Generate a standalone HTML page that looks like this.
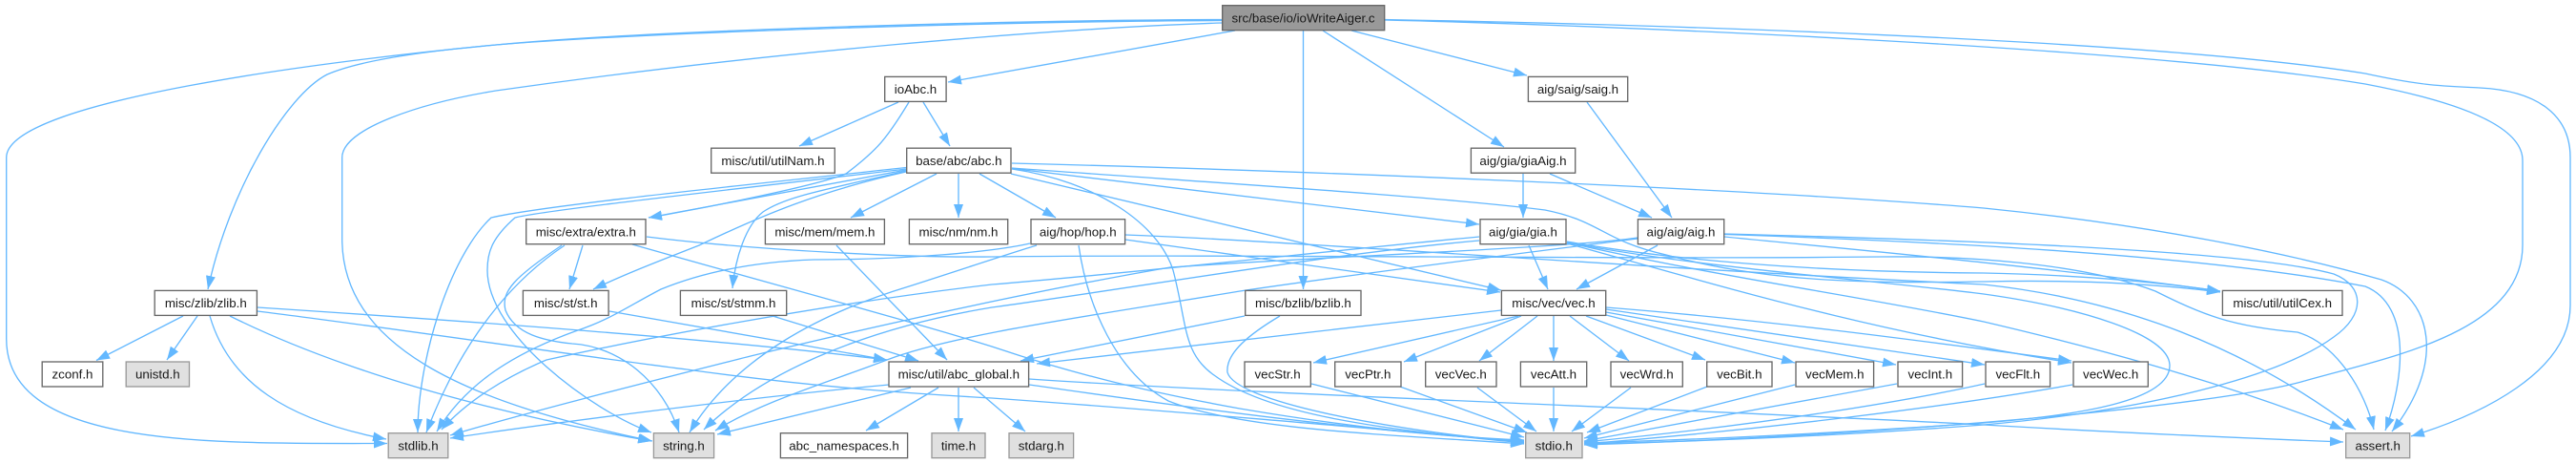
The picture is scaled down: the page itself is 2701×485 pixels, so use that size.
<!DOCTYPE html>
<html><head><meta charset="utf-8"><title>src/base/io/ioWriteAiger.c</title>
<style>
html,body{margin:0;padding:0;background:#fff}
svg{display:block}
.e path{fill:none;stroke:#63b8ff;stroke-width:1.33;marker-end:url(#a)}
rect{fill:#fff;stroke:#666;stroke-width:1.33}
rect.x{fill:#e0e0e0;stroke:#999}
rect.t{fill:#999;stroke:#666}
text{font-family:"Liberation Sans",Arial,sans-serif;font-size:13.33px;fill:#191919;text-anchor:middle}
</style></head><body>
<svg xmlns="http://www.w3.org/2000/svg" width="2701" height="485" viewBox="0 0 2701 485">
<defs><marker id="a" markerUnits="userSpaceOnUse" markerWidth="15" markerHeight="12" viewBox="0 -6 15 12" refX="14" refY="0" orient="auto"><path d="M0,-5 L14,0 L0,5 Z" fill="#63b8ff"/></marker></defs>
<g class="e">
<path d="M1281,20.5 C1100,21 700,30 520,47 C350,63 6.7,105 6.7,165 L6.7,355 C6.7,470 220,464.5 406,464.5"/>
<path d="M1281,21.5 C1100,22 700,32 520,47 C440,54 375,64 343,78 C300,100 240,200 218,303"/>
<path d="M1281,24 C1100,30 800,55 520,95 C440,108 358.7,135 358.7,165 L358.7,250 C358.7,360 480,420 684,462"/>
<path d="M1295,32 L994,86"/>
<path d="M1417,32 L1601,79"/>
<path d="M1387,32 L1577,154"/>
<path d="M1366.5,32 L1366.5,303"/>
<path d="M1452,20.5 C1700,25 2250,40 2480,77 C2540,90 2560,90 2600,92 C2660,95 2695,120 2695,165 L2695,320 C2695,390 2600,435 2528,457"/>
<path d="M1452,21 C1700,27 2250,50 2480,88 C2570,105 2645,130 2645,168 L2645,257 C2645,350 2500,375 2413,400 C2320,425 2000,455 1661,466"/>
<path d="M942,107 L838,153"/>
<path d="M968,107 L996,153"/>
<path d="M953,107 C930,145 920,157 887,182 C850,197 700,225 680,228"/>
<path d="M1664,107 L1753,228"/>
<path d="M1597,182 L1597,228"/>
<path d="M1625,182 L1732,228"/>
<path d="M1603,257 L1623,303"/>
<path d="M1738,257 L1653,303"/>
<path d="M1061,171 C1300,177 1800,195 2080,218 C2250,235 2400,265 2497,293 C2550,312 2565,380 2508,452"/>
<path d="M1061,176 C1250,190 1500,205 1620,220 C1680,232 1680,252 1747,267 C1850,295 1950,297 2080,295 C2170,293 2250,296 2328,306"/>
<path d="M1061,176.5 L1551,235"/>
<path d="M1060,182 L1574,304"/>
<path d="M1061,177 C1150,190 1215,235 1230,283 C1245,340 1240,370 1273,393 C1330,435 1450,450 1598,464"/>
<path d="M950,178 L680,228"/>
<path d="M950,180 C860,200 800,225 733,257 C700,270 660,285 622,303"/>
<path d="M950,179 C870,198 825,205 800,222 C782,236 771,270 768,302"/>
<path d="M982,182 L892,228"/>
<path d="M1005,182 L1005,228"/>
<path d="M1027,182 L1107,228"/>
<path d="M950,175.5 C800,192 570,215 515,228 C470,270 438,380 438,453"/>
<path d="M950,177 C800,195 570,220 540,228 C515,250 511,265 511,283 C511,350 620,430 683,453"/>
<path d="M611,257 L597,303"/>
<path d="M592,257 C550,285 490,340 447,453"/>
<path d="M589,257 C540,290 525,305 530,325 C540,350 570,357 600,360 C650,363 695,400 712,453"/>
<path d="M663,256 C800,295 950,335 1040,363 C1120,390 1200,410 1300,428 C1400,445 1500,457 1598,461"/>
<path d="M678,248 C790,262 950,270 1040,269 C1300,266 1700,272 1972,269 C2060,268 2180,275 2260,305 C2310,330 2340,342 2409,348 C2450,360 2480,410 2489,450"/>
<path d="M1080,255 C1040,264 950,272 853,272 C770,275 720,292 693,303 C660,320 640,335 603,347 C540,370 490,400 458,452"/>
<path d="M1087,257 C1060,265 1000,285 953,300 C860,328 770,375 723,453"/>
<path d="M1180,251 L1573,306"/>
<path d="M1180,246 C1350,252 1700,280 2080,298 C2190,310 2330,345 2470,450"/>
<path d="M1131,257 C1140,320 1170,390 1225,420 C1300,450 1450,455 1598,465"/>
<path d="M1551,248 C1400,262 1200,285 1040,298 C850,320 650,360 573,377 C530,395 490,420 463,450"/>
<path d="M1551,252 C1400,265 1200,300 1040,322 C930,340 810,380 738,450"/>
<path d="M1717,249 C1640,260 1400,268 1227,280 C1140,295 1000,322 787,373 C680,400 560,430 472,456"/>
<path d="M1717,250 C1620,262 1400,290 1300,305 C1150,330 1000,350 930,377 C870,400 800,420 750,451"/>
<path d="M1643,253 C1750,272 1900,285 2080,286 C2180,288 2260,295 2328,305"/>
<path d="M1643,254 C1780,280 1950,292 2080,308 C2180,322 2275,350 2275,383 C2275,420 2180,435 2080,443 C1950,452 1800,460 1661,464"/>
<path d="M1643,254 C1800,290 1950,310 2080,337 C2200,365 2330,400 2457,450"/>
<path d="M1643,255 C1800,298 1950,345 2172,380"/>
<path d="M1808,248 C1950,262 2150,280 2328,305"/>
<path d="M1808,245 C2000,250 2350,260 2447,287 C2480,300 2480,330 2447,353 C2390,395 2250,430 2080,445 C1950,455 1800,462 1661,465"/>
<path d="M1808,245.5 C2000,252 2300,265 2480,300 C2530,320 2520,400 2501,451"/>
<path d="M932,403 C800,415 600,440 472,459"/>
<path d="M955,406 L752,455"/>
<path d="M1079,397 C1300,412 1800,430 2080,445 C2200,452 2330,458 2457,463"/>
<path d="M1079,403 C1200,420 1400,450 1598,462"/>
<path d="M984,406 L908,451"/>
<path d="M1005,406 L1005,452"/>
<path d="M1021,406 L1075,452"/>
<path d="M270,322 C500,337 750,355 930,377"/>
<path d="M270,326 C400,342 600,372 720,387 C850,405 950,412 1040,417 C1250,432 1450,450 1598,463"/>
<path d="M241,331 C350,385 500,430 683,462"/>
<path d="M220,331 C240,400 300,440 405,460"/>
<path d="M192,331 L101,377.5"/>
<path d="M207,331 L175,377"/>
<path d="M810,331 L963,378"/>
<path d="M877,257 L993,377"/>
<path d="M639,326 L930,377"/>
<path d="M1342,331 C1310,350 1285,370 1287,390 C1295,420 1450,450 1598,463.5"/>
<path d="M1305,331 L1070,378"/>
<path d="M1574,325 L1087,381"/>
<path d="M1592,331 L1377,380"/>
<path d="M1595,331 L1472,379"/>
<path d="M1612,331 L1551,378"/>
<path d="M1629,331 L1629,378"/>
<path d="M1646,331 L1708,378"/>
<path d="M1663,331 L1788,377"/>
<path d="M1684,330 L1882,380"/>
<path d="M1684,327 L1988,382"/>
<path d="M1684,324 L2081,382"/>
<path d="M1684,322 C1850,335 2000,355 2172,378"/>
<path d="M1375,402 L1598,458"/>
<path d="M1468,405 L1601,453"/>
<path d="M1549,406 L1611,452"/>
<path d="M1629,406 L1629,452"/>
<path d="M1710,406 L1648,452"/>
<path d="M1790,405 L1664,453"/>
<path d="M1882,403 L1661,459"/>
<path d="M1989,402 L1661,462"/>
<path d="M2081,402 C2000,420 1850,445 1661,463"/>
<path d="M2173,403 C2050,425 1850,450 1661,465"/>
</g>
<g>
<rect class="t" x="1281.7" y="5.7" width="170" height="26"/><text x="1366.5" y="23.3">src/base/io/ioWriteAiger.c</text>
<rect x="927.7" y="80.4" width="64.4" height="26"/><text x="960" y="98">ioAbc.h</text>
<rect x="1602.4" y="80.4" width="104.3" height="26"/><text x="1654.5" y="98">aig/saig/saig.h</text>
<rect x="745.7" y="155.2" width="129.6" height="26"/><text x="810.5" y="172.8">misc/util/utilNam.h</text>
<rect x="950.7" y="155.2" width="109.3" height="26"/><text x="1005.3" y="172.8">base/abc/abc.h</text>
<rect x="1542.4" y="155.2" width="109.3" height="26"/><text x="1597" y="172.8">aig/gia/giaAig.h</text>
<rect x="551.7" y="229.7" width="125.3" height="26"/><text x="614.3" y="247.3">misc/extra/extra.h</text>
<rect x="802.4" y="229.7" width="125" height="26"/><text x="864.9" y="247.3">misc/mem/mem.h</text>
<rect x="953.4" y="229.7" width="103.3" height="26"/><text x="1005" y="247.3">misc/nm/nm.h</text>
<rect x="1081" y="229.7" width="98.6" height="26"/><text x="1130.3" y="247.3">aig/hop/hop.h</text>
<rect x="1552" y="229.7" width="90" height="26"/><text x="1597" y="247.3">aig/gia/gia.h</text>
<rect x="1717.4" y="229.7" width="90.3" height="26"/><text x="1762.5" y="247.3">aig/aig/aig.h</text>
<rect x="162.2" y="304.4" width="107.2" height="26"/><text x="215.8" y="322">misc/zlib/zlib.h</text>
<rect x="548.4" y="304.4" width="89.7" height="26"/><text x="593.2" y="322">misc/st/st.h</text>
<rect x="713.4" y="304.4" width="111.3" height="26"/><text x="769" y="322">misc/st/stmm.h</text>
<rect x="1305.7" y="304.4" width="121.3" height="26"/><text x="1366.4" y="322">misc/bzlib/bzlib.h</text>
<rect x="1574.4" y="304.4" width="109.3" height="26"/><text x="1629" y="322">misc/vec/vec.h</text>
<rect x="2330.4" y="304.4" width="125.6" height="26"/><text x="2393.2" y="322">misc/util/utilCex.h</text>
<rect x="44.2" y="379" width="63.6" height="26"/><text x="76" y="396.6">zconf.h</text>
<rect class="x" x="132.2" y="379" width="66.3" height="26"/><text x="165.3" y="396.6">unistd.h</text>
<rect x="932" y="379" width="146.6" height="26"/><text x="1005.3" y="396.6">misc/util/abc_global.h</text>
<rect x="1305" y="379" width="69.3" height="26"/><text x="1339.6" y="396.6">vecStr.h</text>
<rect x="1399.7" y="379" width="69.3" height="26"/><text x="1434.3" y="396.6">vecPtr.h</text>
<rect x="1494.7" y="379" width="74.3" height="26"/><text x="1531.8" y="396.6">vecVec.h</text>
<rect x="1594.4" y="379" width="69.3" height="26"/><text x="1629" y="396.6">vecAtt.h</text>
<rect x="1689" y="379" width="75.3" height="26"/><text x="1726.6" y="396.6">vecWrd.h</text>
<rect x="1789.7" y="379" width="68.3" height="26"/><text x="1823.8" y="396.6">vecBit.h</text>
<rect x="1883" y="379" width="81.6" height="26"/><text x="1923.8" y="396.6">vecMem.h</text>
<rect x="1990" y="379" width="67.6" height="26"/><text x="2023.8" y="396.6">vecInt.h</text>
<rect x="2082" y="379" width="67.6" height="26"/><text x="2115.8" y="396.6">vecFlt.h</text>
<rect x="2174" y="379" width="78.3" height="26"/><text x="2213.2" y="396.6">vecWec.h</text>
<rect class="x" x="407.2" y="453.7" width="62.6" height="26"/><text x="438.5" y="471.3">stdlib.h</text>
<rect class="x" x="685.4" y="453.7" width="63.2" height="26"/><text x="717" y="471.3">string.h</text>
<rect x="818.4" y="453.7" width="133.2" height="26"/><text x="885" y="471.3">abc_namespaces.h</text>
<rect class="x" x="977" y="453.7" width="56" height="26"/><text x="1005" y="471.3">time.h</text>
<rect class="x" x="1058" y="453.7" width="67.6" height="26"/><text x="1091.8" y="471.3">stdarg.h</text>
<rect class="x" x="1599.7" y="453.7" width="59.3" height="26"/><text x="1629.3" y="471.3">stdio.h</text>
<rect class="x" x="2459.7" y="453.7" width="67" height="26"/><text x="2493.2" y="471.3">assert.h</text>
</g>
</svg>
</body></html>
